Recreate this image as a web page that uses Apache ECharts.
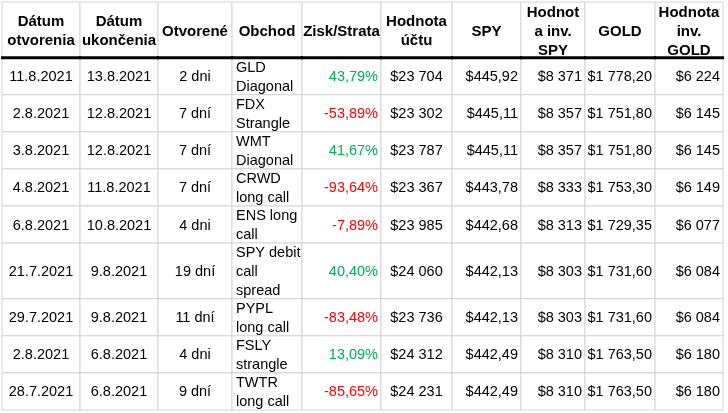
<!DOCTYPE html>
<html>
<head>
<meta charset="utf-8">
<script src="https://cdn.jsdelivr.net/npm/echarts@6/dist/echarts.min.js"></script>
<style>
  html, body { margin: 0; padding: 0; background: #fff; }
  #chart { width: 728px; height: 413px; }
</style>
</head>
<body>
<div id="chart"></div>
<script>
// Table content, one array per column
const headers = [
  'Dátum\notvorenia', 'Dátum\nukončenia', 'Otvorené', 'Obchod', 'Zisk/Strata',
  'Hodnota\núčtu', 'SPY', 'Hodnot\na inv.\nSPY', 'GOLD', 'Hodnota\ninv.\nGOLD'
];
const openDates  = ['11.8.2021', '2.8.2021', '3.8.2021', '4.8.2021', '6.8.2021', '21.7.2021', '29.7.2021', '2.8.2021', '28.7.2021'];
const closeDates = ['13.8.2021', '12.8.2021', '12.8.2021', '11.8.2021', '10.8.2021', '9.8.2021', '9.8.2021', '6.8.2021', '6.8.2021'];
const daysOpen   = [2, 7, 7, 7, 4, 19, 11, 4, 9];
const trades     = ['GLD\nDiagonal', 'FDX\nStrangle', 'WMT\nDiagonal', 'CRWD\nlong call', 'ENS long\ncall',
                    'SPY debit\ncall\nspread', 'PYPL\nlong call', 'FSLY\nstrangle', 'TWTR\nlong call'];
const pnlPct     = [43.79, -53.89, 41.67, -93.64, -7.89, 40.40, -83.48, 13.09, -85.65];
const account    = [23704, 23302, 23787, 23367, 23985, 24060, 23736, 24312, 24231];
const spyPrice   = [445.92, 445.11, 445.11, 443.78, 442.68, 442.13, 442.13, 442.49, 442.49];
const spyInv     = [8371, 8357, 8357, 8333, 8313, 8303, 8303, 8310, 8310];
const goldPrice  = [1778.20, 1751.80, 1751.80, 1753.30, 1729.35, 1731.60, 1731.60, 1763.50, 1763.50];
const goldInv    = [6224, 6145, 6145, 6149, 6077, 6084, 6084, 6180, 6180];

// layout (pixels per column, alignment)
const colWidths = [78, 78, 74, 70, 79, 71, 69, 64, 70, 68];
const colAlign  = ['center', 'center', 'center', 'left', 'right', 'center', 'right', 'right', 'right', 'right'];

const GREEN = '#00B050';
const RED   = '#FF0000';
const GRID  = '#D4D4D4';
const FONT  = "'Liberation Sans', Arial, sans-serif";

function group3(n) {
  return String(n).replace(/\B(?=(\d{3})+(?!\d))/g, ' ');
}
function money(v, dec) {
  const [i, d] = v.toFixed(dec).split('.');
  return '$' + group3(i) + (d ? ',' + d : '');
}
function dni(n) {
  return n + (n >= 2 && n <= 4 ? ' dni' : ' dní');
}

const columns = [
  i => openDates[i],
  i => closeDates[i],
  i => dni(daysOpen[i]),
  i => trades[i],
  i => pnlPct[i].toFixed(2).replace('.', ',') + '%',
  i => money(account[i], 0),
  i => money(spyPrice[i], 2),
  i => money(spyInv[i], 0),
  i => money(goldPrice[i], 2),
  i => money(goldInv[i], 0),
];

// row heights in text lines: the tallest wrapped cell, at least 2
const lines = s => s.split('\n').length;
const rowLines = [Math.max(...headers.map(lines))]
  .concat(trades.map(t => Math.max(2, lines(t))));

const colEdges = [0];
colWidths.forEach(w => colEdges.push(colEdges[colEdges.length - 1] + w));
const rowEdges = [0];
rowLines.forEach(n => rowEdges.push(rowEdges[rowEdges.length - 1] + n));

const cells = [];
for (let r = 0; r < rowLines.length; r++) {
  for (let c = 0; c < colWidths.length; c++) {
    cells.push([colEdges[c], colEdges[c + 1], rowEdges[r], rowEdges[r + 1], c, r]);
  }
}

function renderCell(params, api) {
  const c = api.value(4), r = api.value(5);
  const p0 = api.coord([api.value(0), api.value(2)]);
  const p1 = api.coord([api.value(1), api.value(3)]);
  const lh = api.size([0, 1])[1];
  const isHead = r === 0;
  const i = r - 1;
  const text = isHead ? headers[c] : columns[c](i);
  const align = isHead ? 'center' : colAlign[c];
  const tx = align === 'left' ? p0[0] + 4 : align === 'right' ? p1[0] - 3 : (p0[0] + p1[0]) / 2;
  let fill = '#000';
  if (!isHead && c === 4) fill = pnlPct[i] >= 0 ? GREEN : RED;

  const children = [
    {
      type: 'rect',
      shape: { x: p0[0], y: p0[1], width: p1[0] - p0[0], height: p1[1] - p0[1] },
      style: { fill: '#fff', stroke: GRID, lineWidth: 1 },
    },
    {
      type: 'text',
      z2: 5,
      style: {
        text, x: tx, y: (p0[1] + p1[1]) / 2 + (isHead ? 2 : 1),
        align, verticalAlign: 'middle',
        font: (isHead ? 'bold 15px ' : '14.5px ') + FONT,
        lineHeight: Math.round(lh),
        fill,
      },
    },
  ];
  if (isHead) {
    children.push({
      type: 'line',
      z2: 10,
      shape: { x1: p0[0] - 1, y1: p1[1], x2: p1[0] + 1, y2: p1[1] },
      style: { stroke: '#000', lineWidth: 3 },
    });
  }
  return { type: 'group', children };
}

const chart = echarts.init(document.getElementById('chart'));
chart.setOption({
  animation: false,
  backgroundColor: '#fff',
  grid: { left: 2, right: 5, top: 2, bottom: 3 },
  xAxis: { type: 'value', min: 0, max: colEdges[colEdges.length - 1], show: false },
  yAxis: { type: 'value', min: 0, max: rowEdges[rowEdges.length - 1], inverse: true, show: false },
  series: [{
    type: 'custom',
    renderItem: renderCell,
    data: cells,
    clip: false,
  }],
});
</script>
</body>
</html>
